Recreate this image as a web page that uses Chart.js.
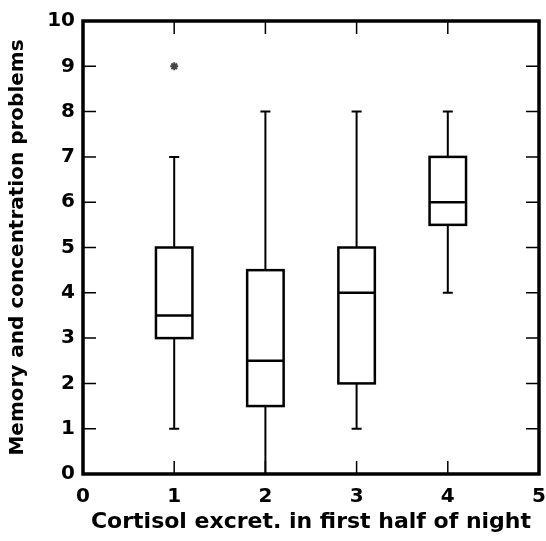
<!DOCTYPE html>
<html>
<head>
<meta charset="utf-8">
<script src="https://cdn.jsdelivr.net/npm/chart.js@4/dist/chart.umd.min.js"></script>
<style>
  html, body { margin: 0; padding: 0; background: #fff; }
  #wrap { width: 546px; height: 541px; }
</style>
</head>
<body>
<div id="wrap"><canvas id="boxChart"></canvas></div>
<script>
"use strict";
// box plot values
const groups = [1, 2, 3, 4];
const whiskerLow = [1, 0, 1, 4];
const quartile1 = [3, 1.5, 2, 5.5];
const medians = [3.5, 2.5, 4, 6];
const quartile3 = [5, 4.5, 5, 7];
const whiskerHigh = [7, 8, 8, 8];
const outlierX = [1];
const outlierY = [9];
const xTicks = [0, 1, 2, 3, 4, 5];
const yTicks = [0, 1, 2, 3, 4, 5, 6, 7, 8, 9, 10];

const FONT = "'DejaVu Sans', sans-serif";

/**
 * Draws boxes, whiskers, the frame and the inward ticks using the chart scales.
 */
const boxPlugin = {
    id: 'boxPlugin',
    afterDatasetsDraw(chart) {
        const ctx = chart.ctx;
        const xs = chart.scales.x;
        const ys = chart.scales.y;
        const halfBox = 0.2;
        const halfCap = 0.055;
        ctx.save();
        ctx.strokeStyle = '#000';
        ctx.lineCap = 'butt';
        for (let i = 0; i < groups.length; i++) {
            let xc = xs.getPixelForValue(groups[i]);
            let xl = xs.getPixelForValue(groups[i] - halfBox);
            let xr = xs.getPixelForValue(groups[i] + halfBox);
            let cl = xs.getPixelForValue(groups[i] - halfCap);
            let cr = xs.getPixelForValue(groups[i] + halfCap);
            let yLo = ys.getPixelForValue(whiskerLow[i]);
            let yQ1 = ys.getPixelForValue(quartile1[i]);
            let yMed = ys.getPixelForValue(medians[i]);
            let yQ3 = ys.getPixelForValue(quartile3[i]);
            let yHi = ys.getPixelForValue(whiskerHigh[i]);
            // whiskers
            ctx.lineWidth = 2;
            ctx.beginPath();
            ctx.moveTo(xc, yQ1); ctx.lineTo(xc, yLo);
            ctx.moveTo(xc, yQ3); ctx.lineTo(xc, yHi);
            ctx.moveTo(cl, yLo); ctx.lineTo(cr, yLo);
            ctx.moveTo(cl, yHi); ctx.lineTo(cr, yHi);
            ctx.stroke();
            // box
            ctx.lineWidth = 2.5;
            ctx.strokeRect(xl, yQ3, xr - xl, yQ1 - yQ3);
            ctx.beginPath();
            ctx.moveTo(xl, yMed); ctx.lineTo(xr, yMed);
            ctx.stroke();
        }
        ctx.restore();
    },
    afterDraw(chart) {
        const ctx = chart.ctx;
        const a = chart.chartArea;
        const xs = chart.scales.x;
        const ys = chart.scales.y;
        const tickLen = 13;
        ctx.save();
        ctx.strokeStyle = '#000';
        ctx.lineWidth = 1.5;
        ctx.beginPath();
        xTicks.forEach(function (v) {
            let px = xs.getPixelForValue(v);
            ctx.moveTo(px, a.bottom); ctx.lineTo(px, a.bottom - tickLen);
            ctx.moveTo(px, a.top); ctx.lineTo(px, a.top + tickLen);
        });
        yTicks.forEach(function (v) {
            let py = ys.getPixelForValue(v);
            ctx.moveTo(a.left, py); ctx.lineTo(a.left + tickLen, py);
            ctx.moveTo(a.right, py); ctx.lineTo(a.right - tickLen, py);
        });
        ctx.stroke();
        ctx.lineWidth = 3.5;
        ctx.strokeRect(a.left, a.top, a.right - a.left, a.bottom - a.top);
        ctx.restore();
    }
};

const boxCanvas = document.getElementById('boxChart');
const boxChart = new Chart(boxCanvas, {
    type: 'scatter',
    data: {
        datasets: [{
            label: 'Outliers',
            data: outlierX.map(function (x, i) { return { x: x, y: outlierY[i] }; }),
            pointStyle: 'star',
            radius: 4,
            borderWidth: 2,
            borderColor: '#444',
            backgroundColor: '#444'
        }]
    },
    options: {
        responsive: true,
        maintainAspectRatio: false,
        animation: false,
        layout: { padding: { top: 21, right: 0, left: 0, bottom: 0 } },
        plugins: {
            legend: { display: false },
            tooltip: { enabled: false }
        },
        scales: {
            x: {
                type: 'linear',
                min: 0,
                max: 5,
                afterBuildTicks: function (scale) {
                    scale.ticks = xTicks.map(function (v) { return { value: v }; });
                },
                afterFit: function (scale) {
                    scale.height = 67;
                    scale.paddingLeft = 0;
                    scale.paddingRight = 7;
                },
                grid: { display: false, drawTicks: false },
                border: { display: false },
                ticks: {
                    padding: 11,
                    color: '#000',
                    maxRotation: 0,
                    font: { family: FONT, size: 20, weight: 'bold' }
                },
                title: {
                    display: true,
                    text: 'Cortisol excret. in first half of night',
                    color: '#000',
                    padding: { top: 0, bottom: 6 },
                    font: { family: FONT, size: 22, weight: 'bold' }
                }
            },
            y: {
                type: 'linear',
                min: 0,
                max: 10,
                afterBuildTicks: function (scale) {
                    scale.ticks = yTicks.map(function (v) { return { value: v }; });
                },
                afterFit: function (scale) { scale.width = 83; },
                grid: { display: false, drawTicks: false },
                border: { display: false },
                ticks: {
                    padding: 8,
                    color: '#000',
                    font: { family: FONT, size: 20, weight: 'bold' }
                },
                title: {
                    display: true,
                    text: 'Memory and concentration problems',
                    color: '#000',
                    padding: { top: 6, bottom: 0 },
                    font: { family: FONT, size: 20, weight: 'bold' }
                }
            }
        }
    },
    plugins: [boxPlugin]
});
</script>
</body>
</html>
